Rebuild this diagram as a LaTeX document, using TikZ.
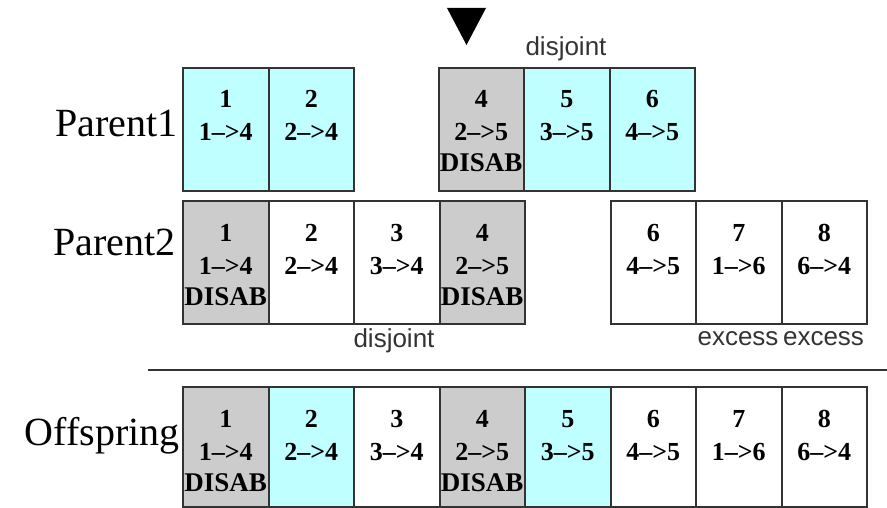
\documentclass[tikz,border=0pt]{standalone}
\usepackage{fontspec}
\setmainfont{Liberation Serif}
\setsansfont{Liberation Sans}
\definecolor{enabled}{HTML}{C0FFFF}
\definecolor{disabled}{HTML}{CCCCCC}
\definecolor{edge}{HTML}{333333}
\definecolor{note}{HTML}{333333}

\tikzset{
  gene/.style={draw=edge, line width=2pt, minimum width=85.5pt,
    minimum height=123pt, inner sep=0pt, anchor=north west},
  genetxt/.style={font=\bfseries\fontsize{26}{26}\selectfont, anchor=base, inner sep=0pt},
  disabtxt/.style={font=\bfseries\fontsize{27}{27}\selectfont, anchor=base, inner sep=0pt},
  rowlabel/.style={font=\fontsize{40}{40}\selectfont, anchor=base east, inner sep=0pt},
  notelabel/.style={font=\sffamily\fontsize{26}{26}\selectfont, text=note, anchor=base, inner sep=0pt},
}

% one gene: name, x, top y, fill, innovation number, connection, extra line
\newcommand\genecell[8][123pt]{%
  \node[gene, fill=#5, minimum height=#1] (#2) at (#3,#4) {};
  \node[genetxt] (#2n) at ([yshift=-41pt]#2.north) {#6};
  \node[genetxt] (#2c) at ([yshift=-74pt]#2.north) {#7};
  \node[disabtxt] (#2d) at ([yshift=-105pt]#2.north) {#8};
}

\begin{document}
\begin{tikzpicture}[x=1pt, y=-1pt]
  \useasboundingbox (0,0) rectangle (887,508);

  % marker above the first disabled gene of parent 1
  \fill[black] (447,8) -- (486,8) -- (466.5,45) -- cycle;

  % Parent 1
  \node[rowlabel] (p1) at (178,137) {Parent1};
  \genecell{a1}{182}{67}{enabled}{1}{1-->4}{}
  \genecell{a2}{267.5}{67}{enabled}{2}{2-->4}{}
  \genecell{a4}{437.5}{67}{disabled}{4}{2-->5}{DISAB}
  \genecell{a5}{523}{67}{enabled}{5}{3-->5}{}
  \genecell{a6}{608.5}{67}{enabled}{6}{4-->5}{}
  \node[notelabel] (d1) at (566,56) {disjoint};

  % Parent 2
  \node[rowlabel] (p2) at (176,255) {Parent2};
  \genecell{b1}{182}{200}{disabled}{1}{1-->4}{DISAB}
  \genecell{b2}{267.5}{200}{white}{2}{2-->4}{}
  \genecell{b3}{353}{200}{white}{3}{3-->4}{}
  \genecell{b4}{438.5}{200}{disabled}{4}{2-->5}{DISAB}
  \genecell{b6}{609.5}{200}{white}{6}{4-->5}{}
  \genecell{b7}{695}{200}{white}{7}{1-->6}{}
  \genecell{b8}{780.5}{200}{white}{8}{6-->4}{}
  \node[notelabel] (d2) at (394,347) {disjoint};
  \node[notelabel] (e7) at (738,345) {excess};
  \node[notelabel] (e8) at (823.5,345) {excess};

  % separator
  \coordinate (sepl) at (148,370);
  \coordinate (sepr) at (887,370);
  \draw[edge, line width=2pt] (sepl) -- (sepr);

  % Offspring
  \node[rowlabel] (off) at (180,445) {Offspring};
  \genecell[120pt]{c1}{182}{386}{disabled}{1}{1-->4}{DISAB}
  \genecell[120pt]{c2}{267.5}{386}{enabled}{2}{2-->4}{}
  \genecell[120pt]{c3}{353}{386}{white}{3}{3-->4}{}
  \genecell[120pt]{c4}{438.5}{386}{disabled}{4}{2-->5}{DISAB}
  \genecell[120pt]{c5}{524}{386}{enabled}{5}{3-->5}{}
  \genecell[120pt]{c6}{609.5}{386}{white}{6}{4-->5}{}
  \genecell[120pt]{c7}{695}{386}{white}{7}{1-->6}{}
  \genecell[120pt]{c8}{780.5}{386}{white}{8}{6-->4}{}
\end{tikzpicture}
\end{document}
